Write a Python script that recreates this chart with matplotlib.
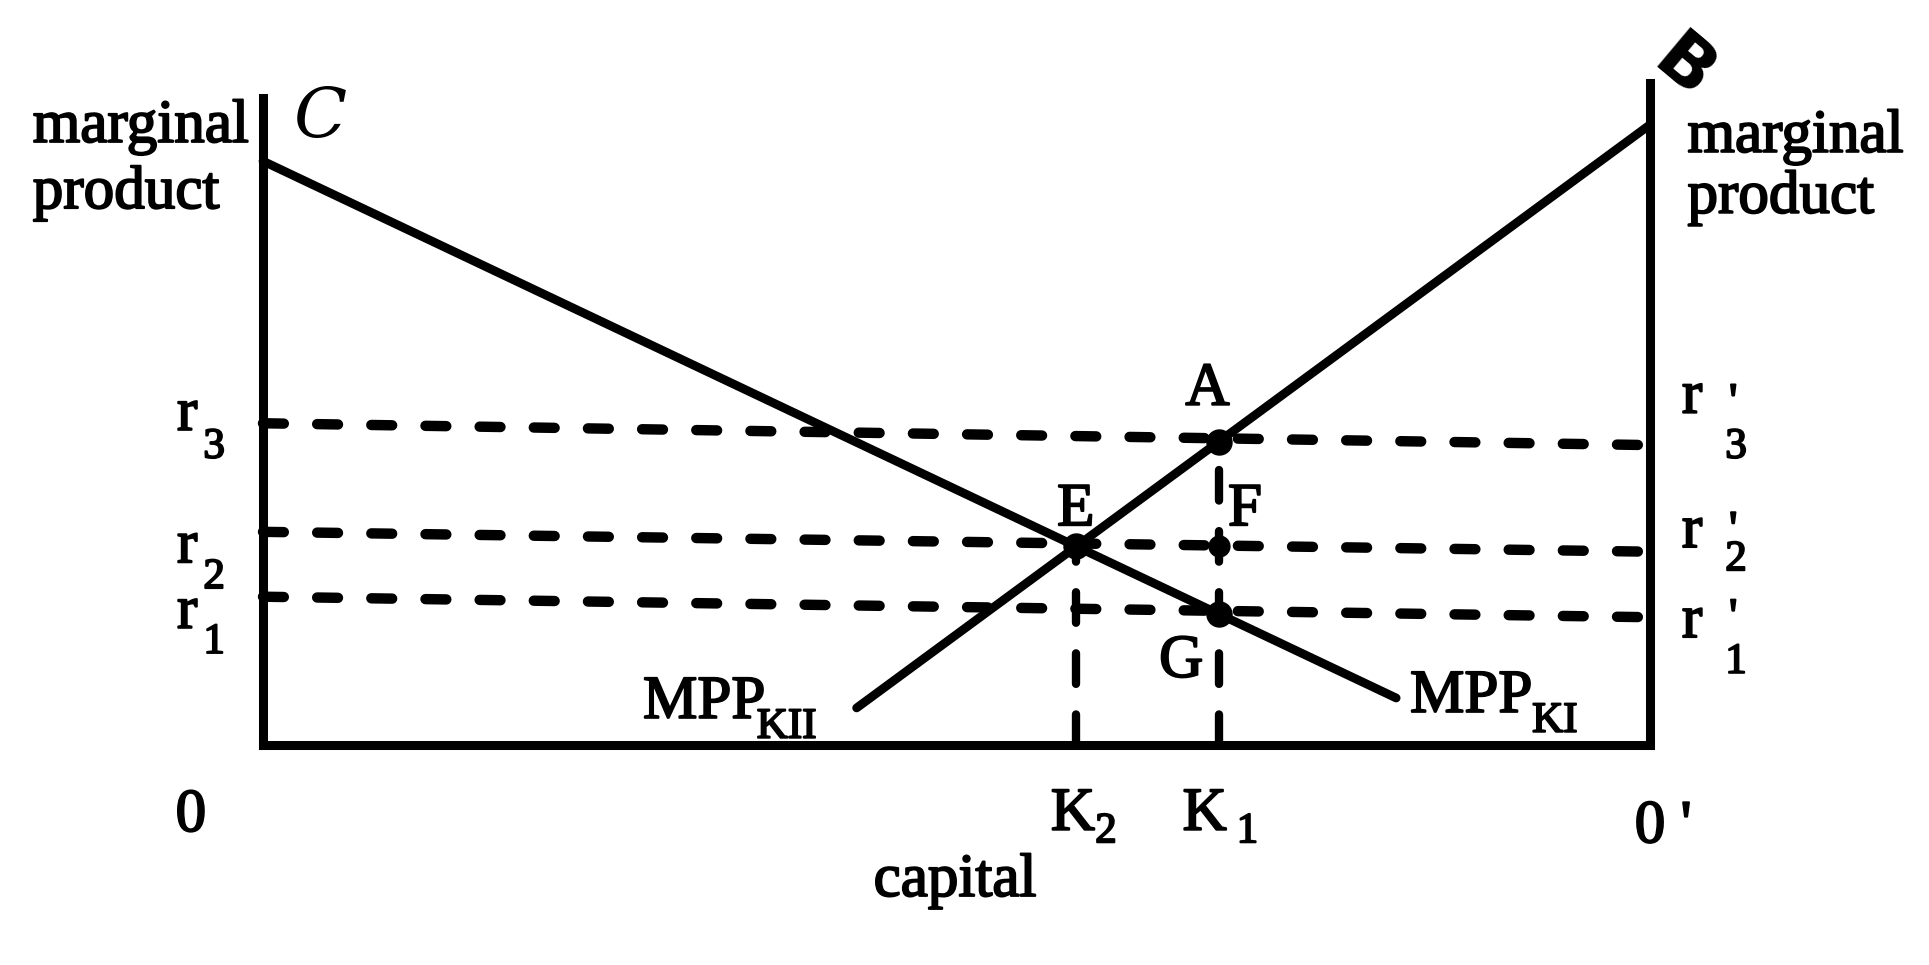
import numpy as np
import matplotlib
matplotlib.use('Agg')
import matplotlib.pyplot as plt
import matplotlib.patheffects as pe

# capital runs from origin 0 (left) to origin 0' (right)
cap_span = [0, 100]
left_axis_top = 97.7
right_axis_top = 100

# marginal product curves (straight lines)
mpp_ki_x = [0, 81.7]
mpp_ki_y = [88.2, 7.1]
mpp_kii_x = [42.8, 100]
mpp_kii_y = [5.6, 93.7]

# rate levels: r on the left axis, r' on the right axis
rate_subs = ['1', '2', '3']
rate_left = [22.4, 32.2, 48.6]
rate_right = [19.3, 29.2, 45.3]

k1 = 68.9

plt.rcParams['lines.scale_dashes'] = False
FONT = 'Liberation Serif'
thick = [pe.withStroke(linewidth=1.4, foreground='black')]


def rate_at(i, x):
    return np.interp(x, cap_span, [rate_left[i], rate_right[i]])


def intersect():
    s1 = (mpp_ki_y[1] - mpp_ki_y[0]) / (mpp_ki_x[1] - mpp_ki_x[0])
    s2 = (mpp_kii_y[1] - mpp_kii_y[0]) / (mpp_kii_x[1] - mpp_kii_x[0])
    b1 = mpp_ki_y[0] - s1 * mpp_ki_x[0]
    b2 = mpp_kii_y[0] - s2 * mpp_kii_x[0]
    x = (b2 - b1) / (s1 - s2)
    return x, b1 + s1 * x


def label(x, y, s, size=44, **kw):
    kw.setdefault('ha', 'left')
    kw.setdefault('va', 'baseline')
    ax.text(x, y, s, fontsize=size, family=FONT, color='black',
            path_effects=thick, clip_on=False, **kw)


fig = plt.figure(figsize=(19.29, 9.65), dpi=100)
ax = fig.add_axes([263 / 1929, (965 - 745) / 965, 1387 / 1929, 662 / 965])
ax.set_xlim(0, 100)
ax.set_ylim(0, 100)
ax.axis('off')

ex, ey = intersect()
k2 = ex
ay = np.interp(k1, mpp_kii_x, mpp_kii_y)
gy = np.interp(k1, mpp_ki_x, mpp_ki_y)
fy = rate_at(1, k1)

dash = (0, (15, 24))
# dashed rate lines
for i in range(3):
    ax.plot(cap_span, [rate_left[i], rate_right[i]], color='black', lw=7.5,
            ls=dash, dash_capstyle='round', clip_on=False)
# dashed verticals at K2 and K1
ax.plot([k2, k2], [0, ey], color='black', lw=6, ls=(0, (22, 22)),
        dash_capstyle='round', clip_on=False)
ax.plot([k1, k1], [0, ay], color='black', lw=6, ls=(0, (22, 22)),
        dash_capstyle='round', clip_on=False)

# axes of the box
ax.plot([0, 0], [0, left_axis_top], color='black', lw=6.5, clip_on=False)
ax.plot([100, 100], [0, right_axis_top], color='black', lw=6.5, clip_on=False)
ax.plot(cap_span, [0, 0], color='black', lw=6.5, clip_on=False,
        solid_capstyle='projecting')

# curves
ax.plot(mpp_ki_x, mpp_ki_y, color='black', lw=6.3, solid_capstyle='round', clip_on=False)
ax.plot(mpp_kii_x, mpp_kii_y, color='black', lw=6.3, solid_capstyle='round', clip_on=False)

# points
ax.plot([k2, k1, k1], [ey, ay, gy], 'o', color='black', ms=18, clip_on=False)
ax.plot([k1], [fy], 'o', color='black', ms=15, clip_on=False)

# axis titles
label(-16.6, 91.1, 'marginal')
label(-16.6, 81.1, 'product')
label(102.7, 89.6, 'marginal')
label(102.7, 80.4, 'product')
ax.text(4.1, 94.6, 'C', fontsize=50, family='DejaVu Serif', style='italic',
        ha='center', va='center', color='black', clip_on=False)
ax.text(102.4, 102.2, 'B', fontsize=52, family='DejaVu Sans', weight='bold',
        rotation=-40, ha='center', va='center', color='black', clip_on=False)

# rate labels
left_r = [(17.7, 13.9), (27.6, 23.7), (47.6, 43.4)]
for (ry, sy), sub in zip(left_r, rate_subs):
    label(-6.2, ry, 'r')
    label(-4.3, sy, sub, size=31)
right_r = [(16.3, 22.2, 10.9), (29.9, 35.4, 26.4), (50.2, 54.7, 43.4)]
for (ry, py, sy), sub in zip(right_r, rate_subs):
    label(102.3, ry, 'r')
    label(106.0, py, "'", size=34, va='top', ha='center')
    label(106.2, sy, sub, size=31, ha='center')

# bottom labels
label(-6.3, -13.0, '0')
label(98.9, -14.7, "0 '")
label(56.8, -12.8, 'K')
label(60.0, -14.7, '2', size=31)
label(66.3, -12.8, 'K')
label(70.2, -14.7, '1', size=31)
label(49.9, -22.8, 'capital', ha='center')

# curve labels
label(27.4, 4.1, 'MPP')
label(35.6, 1.1, 'KII', size=31)
label(82.7, 5.0, 'MPP')
label(91.5, 2.0, 'KI', size=31)

# point labels
label(68.1, 51.4, 'A', ha='center')
label(58.6, 33.2, 'E', ha='center')
label(70.8, 33.2, 'F', ha='center')
label(66.2, 10.3, 'G', ha='center')

fig.savefig('out.png', dpi=100, facecolor='white')
